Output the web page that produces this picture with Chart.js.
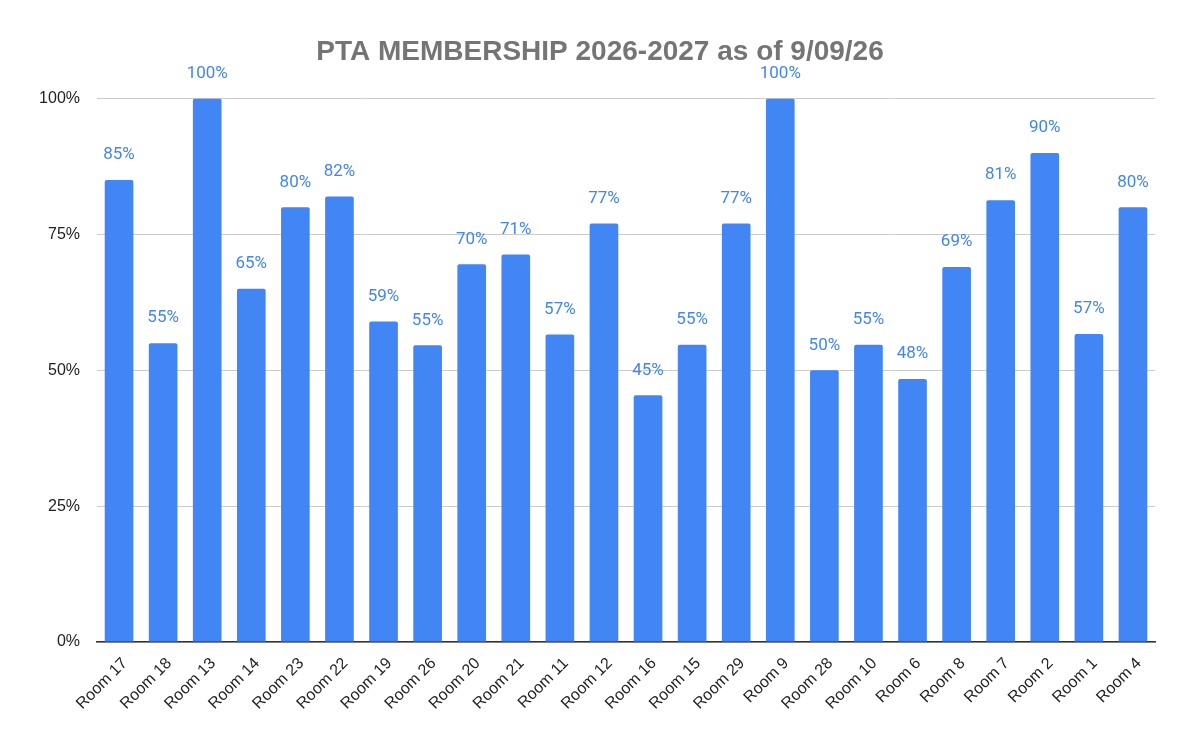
<!DOCTYPE html>
<html>
<head>
<meta charset="utf-8">
<script src="https://cdn.jsdelivr.net/npm/chart.js@4"></script>
<style>
  html, body { margin: 0; padding: 0; background: #fff; }
  #wrap { width: 1200px; height: 743px; }
</style>
</head>
<body>
<div id="wrap"><canvas id="chart"></canvas></div>
<script>
const rooms = ['Room 17', 'Room 18', 'Room 13', 'Room 14', 'Room 23', 'Room 22', 'Room 19', 'Room 26',
  'Room 20', 'Room 21', 'Room 11', 'Room 12', 'Room 16', 'Room 15', 'Room 29', 'Room 9',
  'Room 28', 'Room 10', 'Room 6', 'Room 8', 'Room 7', 'Room 2', 'Room 1', 'Room 4'];
const membership = [0.85, 0.55, 1.00, 0.65, 0.80, 0.82, 0.59, 0.546,
  0.695, 0.713, 0.566, 0.77, 0.454, 0.547, 0.77, 1.00,
  0.50, 0.547, 0.484, 0.69, 0.813, 0.90, 0.567, 0.80];
const yTicks = [0, 0.25, 0.5, 0.75, 1];

const BLUE = '#4285F4';

// value labels above each bar
const barLabels = {
  id: 'barLabels',
  afterDatasetsDraw(chart) {
    const ctx = chart.ctx;
    const meta = chart.getDatasetMeta(0);
    ctx.save();
    ctx.font = '17px Roboto';
    ctx.fillStyle = BLUE;
    ctx.textAlign = 'center';
    ctx.textBaseline = 'middle';
    meta.data.forEach((bar, i) => {
      ctx.fillText(Math.round(membership[i] * 100) + '%', bar.x, bar.y - 25);
    });
    ctx.restore();
  }
};

new Chart(document.getElementById('chart'), {
  type: 'bar',
  data: {
    labels: rooms,
    datasets: [{
      label: 'Membership',
      data: membership,
      backgroundColor: BLUE,
      borderRadius: { topLeft: 2, topRight: 2 },
      borderSkipped: 'bottom',
      categoryPercentage: 1.0,
      barPercentage: 0.65
    }]
  },
  options: {
    responsive: true,
    maintainAspectRatio: false,
    animation: false,
    layout: { padding: 0 },
    plugins: {
      legend: { display: false },
      tooltip: { enabled: false },
      title: {
        display: true,
        text: 'PTA MEMBERSHIP 2026-2027 as of 9/09/26',
        color: '#757575',
        font: { family: 'Liberation Sans', size: 28, weight: 'bold' },
        padding: { top: 35, bottom: 30 }
      }
    },
    scales: {
      x: {
        grid: { display: false },
        border: { color: '#333', width: 1.5 },
        ticks: {
          color: '#222',
          font: { family: 'Liberation Sans', size: 16 },
          minRotation: 45,
          maxRotation: 45,
          labelOffset: 6,
          padding: 4
        },
        afterFit(scale) { scale.height = 101; }
      },
      y: {
        min: 0,
        max: 1,
        afterBuildTicks(scale) { scale.ticks = yTicks.map(v => ({ value: v })); },
        grid: { color: '#cccccc', drawTicks: false },
        border: { display: false },
        ticks: {
          color: '#222',
          font: { family: 'Liberation Sans', size: 16 },
          padding: 17,
          callback: v => Math.round(v * 100) + '%'
        },
        afterFit(scale) { scale.width = 97; }
      },
      // empty right-hand spacer so the title stays centred on the page
      yRight: {
        type: 'linear',
        position: 'right',
        min: 0,
        max: 1,
        grid: { drawOnChartArea: false, drawTicks: false },
        border: { display: false },
        ticks: { display: false },
        afterFit(scale) { scale.width = 45; }
      }
    }
  },
  plugins: [barLabels]
});
</script>
</body>
</html>
